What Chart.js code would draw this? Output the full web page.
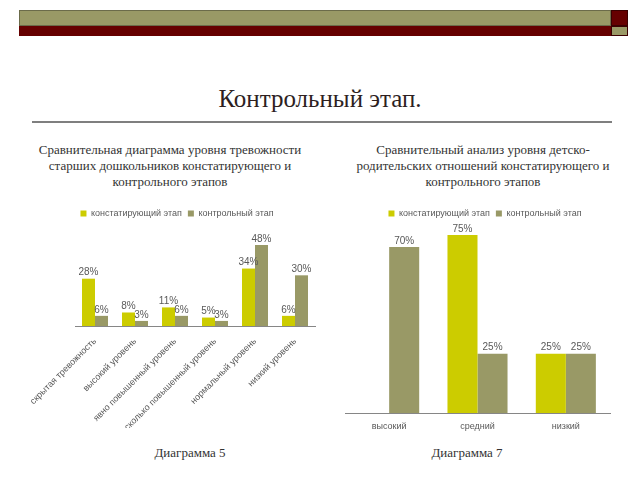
<!DOCTYPE html>
<html>
<head>
<meta charset="utf-8">
<script src="https://cdn.jsdelivr.net/npm/chart.js@4.4.1/dist/chart.umd.min.js"></script>
<style>
    body { margin: 0; background: #fff; }
    #slide { position: relative; width: 640px; height: 480px; overflow: hidden; font-family: "Liberation Serif", "DejaVu Serif", serif; }
    .bar-top { position: absolute; left: 19px; top: 10px; width: 592px; height: 16px; background: #999966; border: 1px solid #6b6b4a; box-sizing: border-box; }
    .bar-low { position: absolute; left: 19px; top: 26px; width: 592px; height: 10px; background: #660000; }
    .sq-top { position: absolute; left: 611px; top: 10px; width: 17px; height: 16px; background: #660000; border: 1px solid #3a0000; box-sizing: border-box; }
    .sq-low { position: absolute; left: 611px; top: 26px; width: 17px; height: 10px; background: #999966; border: 1px solid #3a0000; box-sizing: border-box; }
    .title { position: absolute; left: 0; width: 640px; top: 85px; text-align: center; font-size: 25px; color: #2e1f1f; }
    .rule { position: absolute; left: 32px; top: 121px; width: 580px; height: 2px; background: #7f7f7f; }
    .sub { position: absolute; top: 142px; width: 320px; text-align: center; font-size: 13px; line-height: 16px; color: #333; }
    .cap { position: absolute; top: 445px; width: 200px; text-align: center; font-size: 13px; color: #333; }
    canvas { position: absolute; }
</style>
</head>
<body>
<div id="slide">
    <div class="bar-top"></div><div class="bar-low"></div>
    <div class="sq-top"></div><div class="sq-low"></div>
    <div class="title">Контрольный этап.</div>
    <div class="rule"></div>
    <div class="sub" style="left:10px">Сравнительная диаграмма уровня тревожности<br>старших дошкольников констатирующего и<br>контрольного этапов</div>
    <div class="sub" style="left:323px">Сравнительный анализ уровня детско-<br>родительских отношений констатирующего и<br>контрольного этапов</div>
    <div class="cap" style="left:90px">Диаграмма 5</div>
    <div class="cap" style="left:367px">Диаграмма 7</div>
    <canvas id="chart5" style="left:20px; top:197px; width:314px; height:231px"></canvas>
    <canvas id="chart7" style="left:340px; top:197px; width:290px; height:245px"></canvas>
</div>
<script>
const seriesNames = ['констатирующий этап', 'контрольный этап'];

// диаграмма 5
const anxietyLevels = ['скрытая тревожность', 'высокий уровень', 'явно повышенный уровень', 'несколько повышенный уровень', 'нормальный уровень', 'низкий уровень'];
const anxietyBefore = [28, 8, 11, 5, 34, 6];
const anxietyAfter = [6, 3, 6, 3, 48, 30];

// диаграмма 7
const relationLevels = ['высокий', 'средний', 'низкий'];
const relationBefore = [null, 75, 25];
const relationAfter = [70, 25, 25];

const colBefore = '#cccc00';
const colAfter = '#999966';
const textGrey = '#595959';

Chart.defaults.font.family = 'Arial, "Liberation Sans", sans-serif';
Chart.defaults.animation = false;

// подписи значений над столбиками
const valueLabels = {
    id: 'valueLabels',
    afterDatasetsDraw(chart) {
        const ctx = chart.ctx;
        ctx.save();
        ctx.fillStyle = textGrey;
        ctx.font = '10px Arial, "Liberation Sans", sans-serif';
        ctx.textAlign = 'center';
        ctx.textBaseline = 'bottom';
        chart.data.datasets.forEach((ds, i) => {
            chart.getDatasetMeta(i).data.forEach((el, j) => {
                if (ds.data[j] == null) return;
                ctx.fillText(ds.data[j] + '%', el.x, el.y - 1);
            });
        });
        ctx.restore();
    }
};

// пустая ось, только чтобы занять место сбоку (легенда остаётся по центру холста)
function spacer(pos, w) {
    return {
        position: pos, display: true,
        grid: { display: false }, border: { display: false }, ticks: { display: false },
        afterFit(s) { s.width = w; }
    };
}

function makeChart(id, labels, before, after, opts) {
    const y = spacer('left', opts.left);
    y.min = 0;
    y.max = opts.max;
    return new Chart(document.getElementById(id), {
        type: 'bar',
        data: {
            labels: labels,
            datasets: [
                { label: seriesNames[0], data: before, backgroundColor: colBefore },
                { label: seriesNames[1], data: after, backgroundColor: colAfter },
            ]
        },
        options: {
            responsive: false,
            layout: { padding: { left: 0, right: 0, top: 6, bottom: 0 } },
            datasets: { bar: { categoryPercentage: opts.catPct, barPercentage: 1 } },
            plugins: {
                legend: {
                    labels: { boxWidth: 6, boxHeight: 6, color: textGrey, font: { size: 9 }, padding: 6 }
                },
                tooltip: { enabled: false }
            },
            scales: {
                x: {
                    grid: { display: false },
                    border: { display: true, color: '#868686' },
                    ticks: { color: textGrey, font: { size: 9 }, maxRotation: opts.rot, minRotation: opts.rot, autoSkip: false, padding: opts.tickPad },
                    // высота оси фиксирована: длинная подпись обрезается краем, как в оригинале
                    afterFit(s) { s.height = opts.xHeight; }
                },
                y: y,
                yr: spacer('right', opts.right)
            }
        },
        plugins: [valueLabels]
    });
}

function sizeCanvas(id) {
    const c = document.getElementById(id);
    c.width = parseInt(c.style.width);
    c.height = parseInt(c.style.height);
}
sizeCanvas('chart5');
sizeCanvas('chart7');

makeChart('chart5', anxietyLevels, anxietyBefore, anxietyAfter,
    { left: 55, right: 19, catPct: 0.65, rot: 45, max: 58, tickPad: 2, xHeight: 102 });
makeChart('chart7', relationLevels, relationBefore, relationAfter,
    { left: 5, right: 20, catPct: 0.68, rot: 0, max: 78, tickPad: 0, xHeight: 29 });
</script>
</body>
</html>
